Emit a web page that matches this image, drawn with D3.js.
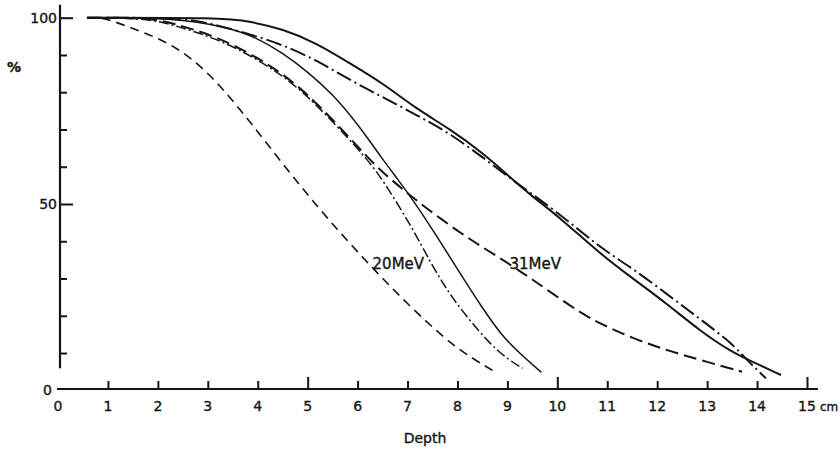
<!DOCTYPE html>
<html>
<head>
<meta charset="utf-8">
<script src="https://cdn.jsdelivr.net/npm/d3@7"></script>
<style>
  body { margin: 0; background: #fff; }
  svg { display: block; }
  text { font-family: "DejaVu Sans", sans-serif; fill: #151515; stroke: #151515; stroke-width: 0.35px; }
</style>
</head>
<body>
<svg id="chart" width="840" height="450"></svg>
<script>
// Depth-dose curves: [depth in cm, relative dose in %]
const mev20Dashed = [[0.58,100],[0.84,100],[1.04,99.4],[1.7,96.2],[2.38,92.2],[3.04,85],[3.64,75.5],[4.18,66.3],[4.84,55],[5.5,44.5],[6.24,33.6],[6.98,23.4],[7.78,13.4],[8.3,8.5],[8.8,4.6]];
const mev20DashDot = [[0.58,100],[1.84,99.8],[2.38,97.7],[3.04,95],[3.7,91],[4.2,87],[4.5,84.3],[4.84,80.7],[5.18,76.5],[5.7,69.3],[6.18,62.2],[6.5,56.6],[7.1,43.5],[7.44,34.8],[7.78,27],[8.18,19.8],[8.64,12.6],[8.98,8.6],[9.3,5.9]];
const mev20Solid = [[0.58,100],[2.3,100],[3.4,97.5],[4.0,94.5],[4.5,90.5],[5.0,85.5],[5.5,79.5],[6.0,71.5],[6.5,62],[6.84,56],[7.14,50.5],[7.58,41.5],[8.0,32.5],[8.5,22],[8.9,14.5],[9.24,10],[9.68,4.8]];
const mev31Dashed = [[0.58,100],[1.84,100],[2.38,98.2],[3.04,95.5],[3.7,91.5],[4.2,87.5],[4.5,84.8],[4.84,81.2],[5.18,77],[5.7,69.8],[6.18,62.8],[6.5,58.5],[6.9,54],[7.38,48.8],[8.04,42.4],[8.5,38.4],[8.98,34.4],[9.44,30.3],[9.9,26],[10.44,21],[10.84,18],[11.5,14],[12.18,10.8],[12.84,8.2],[13.7,5]];
const mev31DashDot = [[0.58,100],[2.4,100],[3.04,98.6],[3.98,95],[4.5,92.7],[5.18,88.6],[5.84,83.3],[6.5,78.7],[7.18,73.9],[7.84,69],[8.5,62.6],[9.1,56.4],[10.04,47.5],[10.84,38.4],[11.5,32.8],[12.18,26],[12.84,19.3],[13.5,12.6],[13.84,7.5],[14.18,3.2]];
const mev31Solid = [[0.58,100],[3.3,100],[3.84,99],[4.5,97],[5.18,93.2],[5.84,87.8],[6.5,82.5],[7.18,75.5],[7.84,70.2],[8.5,63.8],[9.1,56.6],[9.5,52],[10.04,46.5],[10.84,36.8],[11.5,30.1],[12.18,23.4],[12.84,16.1],[13.5,10.2],[13.84,8.1],[14.48,4.1]];

const xTickValues = [1,2,3,4,5,6,7,8,9,10,11,12,13,14,15];
const xTickLabels = [0,1,2,3,4,5,6,7,8,9,10,11,12,13,14,15];
const yTickValues = [10,20,30,40,50,60,70,80,90,100];
const yTickLabels = [0,50,100];
const curveLabels = [{text: "20MeV", depth: 6.3, pct: 34}, {text: "31MeV", depth: 9.04, pct: 34}];

const svg = d3.select("#chart");
const ink = "#151515";

const x = d3.scaleLinear().domain([0, 15]).range([58, 807]);
const y = d3.scaleLinear().domain([0, 100]).range([390.3, 17.7]);

// y axis: inward ticks, longer at 50 and 100
const yAxisG = svg.append("g").attr("transform", `translate(60,0)`)
  .call(d3.axisRight(y).tickValues(yTickValues).tickSize(7).tickFormat(""));
yAxisG.select(".domain").remove();
yAxisG.selectAll(".tick line")
  .attr("stroke", ink).attr("stroke-width", 2)
  .attr("x2", d => d % 50 === 0 ? 13 : 7);
svg.append("line")
  .attr("x1", 60).attr("x2", 60)
  .attr("y1", y(103.5)).attr("y2", y(5.9))
  .attr("stroke", ink).attr("stroke-width", 2.2);

// x axis: ticks pointing up, longer every 5 cm
const xAxisG = svg.append("g").attr("transform", `translate(0,389)`)
  .call(d3.axisTop(x).tickValues(xTickValues).tickSize(8).tickFormat(""));
xAxisG.select(".domain").remove();
xAxisG.selectAll(".tick line")
  .attr("stroke", ink).attr("stroke-width", 2)
  .attr("y2", d => d % 5 === 0 ? -12 : -8);
svg.append("line")
  .attr("x1", x(-0.02)).attr("x2", x(15.22))
  .attr("y1", 389).attr("y2", 389)
  .attr("stroke", ink).attr("stroke-width", 2.2);

// tick labels
svg.append("g").selectAll("text").data(xTickLabels).join("text")
  .attr("x", d => x(d)).attr("y", 411)
  .attr("text-anchor", "middle").attr("font-size", 14)
  .text(d => d);
svg.append("text").attr("x", x(15) + 13).attr("y", 411)
  .attr("font-size", 12).text("cm");

svg.append("g").selectAll("text").data(yTickLabels).join("text")
  .attr("x", d => d === 0 ? 52 : 57).attr("y", d => y(d) + 5)
  .attr("text-anchor", "end").attr("font-size", 14)
  .text(d => d);

svg.append("text").attr("x", 14).attr("y", 72)
  .attr("text-anchor", "middle").attr("font-size", 14).attr("font-weight", "bold")
  .text("%");
svg.append("text").attr("x", 425).attr("y", 443)
  .attr("text-anchor", "middle").attr("font-size", 14)
  .text("Depth");

// curves, smoothed through the read points
const line = d3.line()
  .x(d => x(d[0])).y(d => y(d[1]))
  .curve(d3.curveBasis);

const curves = [
  {data: mev20Dashed,  width: 1.6, dash: "9,6"},
  {data: mev31Dashed,  width: 2.0, dash: "13,6"},
  {data: mev20DashDot, width: 1.5, dash: "10,3,2,3"},
  {data: mev20Solid,   width: 1.5, dash: null},
  {data: mev31DashDot, width: 2.0, dash: "16,4,2,4"},
  {data: mev31Solid,   width: 2.0, dash: null}
];

svg.append("g").selectAll("path").data(curves).join("path")
  .attr("d", d => line(d.data))
  .attr("fill", "none")
  .attr("stroke", ink)
  .attr("stroke-width", d => d.width)
  .attr("stroke-dasharray", d => d.dash)
  .attr("stroke-linecap", "butt");

svg.append("g").selectAll("text").data(curveLabels).join("text")
  .attr("x", d => x(d.depth)).attr("y", d => y(d.pct) + 5)
  .attr("font-size", 15)
  .text(d => d.text);
</script>
</body>
</html>
